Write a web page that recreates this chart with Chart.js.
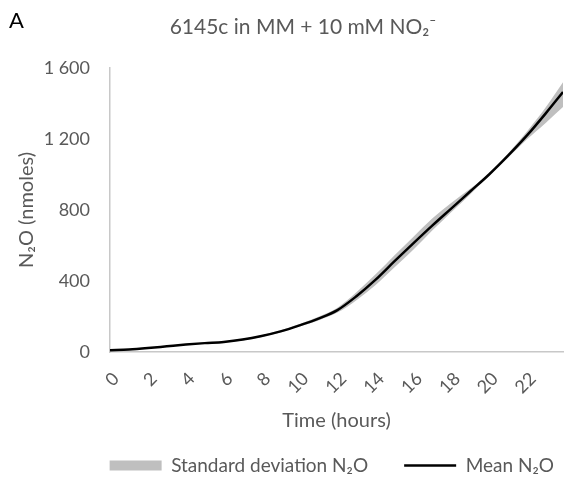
<!DOCTYPE html>
<html>
<head>
<meta charset="utf-8">
<script src="https://cdn.jsdelivr.net/npm/chart.js@4"></script>
<style>
  body { margin: 0; background: #fff; }
  #wrap { position: relative; width: 564px; height: 482px; font-family: Lato, sans-serif; }
  #panel { position: absolute; left: 9px; top: 6px; font-size: 22px; color: #000; }
  #title { position: absolute; left: 303px; top: 13px; transform: translateX(-50%); white-space: nowrap; font-size: 21px; color: #595959; }
</style>
</head>
<body>
<div id="wrap">
  <canvas id="n2o-chart" width="564" height="482"></canvas>
  <div id="panel">A</div>
  <div id="title">6145c in MM + 10 mM NO₂⁻</div>
</div>
<script>
// time points (hours) and values
const hours = [0, 1, 2, 3, 4, 5, 6, 7, 8, 9, 10, 11, 12, 13, 14, 15, 16, 17, 18, 19, 20, 21, 22, 23, 23.9];
const meanN2O = [10, 14, 22, 32, 42, 50, 57, 70, 90, 116, 150, 188, 236, 314, 406, 510, 612, 712, 808, 904, 1000, 1106, 1220, 1346, 1465];
const lowerN2O = [8, 12, 19, 29, 39, 46, 53, 65, 85, 110, 143, 178, 222, 292, 376, 476, 576, 684, 788, 888, 994, 1094, 1198, 1292, 1380];
const upperN2O = [12, 16, 25, 35, 45, 54, 61, 75, 95, 122, 158, 199, 250, 336, 436, 544, 648, 752, 840, 920, 1006, 1118, 1242, 1380, 1520];
const yTicks = [0, 400, 800, 1200, 1600];

const toXY = (vals) => hours.map((h, i) => ({ x: h, y: vals[i] }));
const grey = "#595959";
const font = "Lato";

var ctx = document.getElementById("n2o-chart").getContext("2d");
new Chart(ctx, {
  type: "line",
  data: {
    datasets: [
      {
        label: "lower",
        data: toXY(lowerN2O),
        borderWidth: 0,
        pointRadius: 0,
        fill: false,
        cubicInterpolationMode: "monotone",
      },
      {
        label: "Standard deviation N\u2082O",
        data: toXY(upperN2O),
        borderWidth: 0,
        borderColor: "rgba(0,0,0,0)",
        backgroundColor: "#bfbfbf",
        pointRadius: 0,
        pointStyle: "rect",
        fill: "-1",
        cubicInterpolationMode: "monotone",
      },
      {
        label: "Mean N\u2082O",
        data: toXY(meanN2O),
        borderColor: "#000",
        backgroundColor: "#000",
        borderWidth: 2.5,
        pointRadius: 0,
        pointStyle: "line",
        fill: false,
        cubicInterpolationMode: "monotone",
      },
    ],
  },
  options: {
    responsive: false,
    animation: false,
    // legend runs a bit past the right edge so it lines up like the original
    layout: { padding: { left: 0, right: -26, top: 68, bottom: -3 } },
    plugins: {
      filler: { drawTime: "beforeDatasetsDraw" },
      legend: {
        position: "bottom",
        align: "end",
        labels: {
          filter: (item) => item.datasetIndex !== 0,
          usePointStyle: true,
          pointStyleWidth: 52,
          boxHeight: 10,
          padding: 36,
          color: grey,
          font: { family: font, size: 19 },
        },
      },
      tooltip: { enabled: false },
    },
    scales: {
      x: {
        type: "linear",
        min: 0,
        max: 23.9,
        afterFit: (scale) => {
          scale.height = 68;
        },
        grid: { display: false, drawTicks: false },
        border: { color: "#c8c8c8", width: 1.5 },
        ticks: {
          stepSize: 2,
          includeBounds: false,
          minRotation: 45,
          maxRotation: 45,
          padding: 16,
          labelOffset: 6,
          color: grey,
          font: { family: font, size: 18 },
        },
        title: {
          display: true,
          text: "Time (hours)",
          color: grey,
          font: { family: font, size: 20 },
          padding: { top: 0, bottom: -13 },
        },
      },
      y: {
        min: 0,
        max: 1600,
        afterBuildTicks: (scale) => {
          scale.ticks = yTicks.map((v) => ({ value: v }));
        },
        afterFit: (scale) => {
          scale.width = 110;
        },
        grid: { display: false, drawTicks: false },
        border: { color: "#c8c8c8", width: 1.5 },
        ticks: {
          padding: 20,
          color: grey,
          font: { family: font, size: 18 },
          callback: (v) => String(v).replace(/\B(?=(\d{3})+(?!\d))/g, " "),
        },
        title: {
          display: true,
          text: "N\u2082O (nmoles)",
          color: grey,
          font: { family: font, size: 20 },
          padding: { top: 15, bottom: 0 },
        },
      },
      // empty spacer on the right, keeps the plot inside the canvas
      spacer: {
        type: "linear",
        position: "right",
        afterFit: (scale) => {
          scale.width = 27;
        },
        grid: { display: false, drawTicks: false },
        border: { display: false },
        ticks: { display: false },
      },
    },
  },
});
</script>
</body>
</html>
